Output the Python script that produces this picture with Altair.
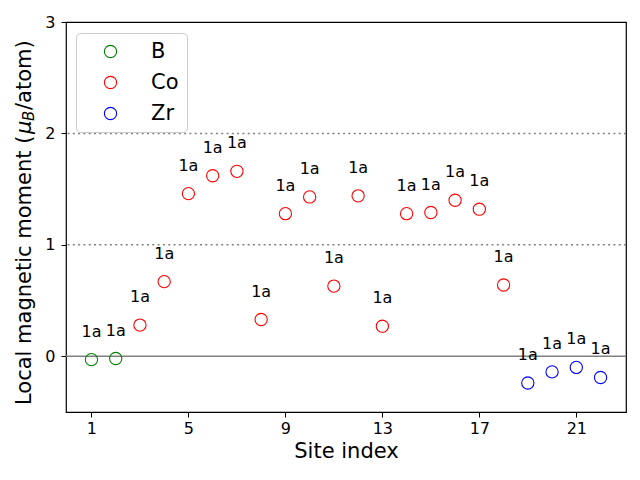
import altair as alt
import pandas as pd

site = list(range(1, 23))
element = ["B", "B"] + ["Co"] * 16 + ["Zr"] * 4
moment = [-0.03, -0.02, 0.28, 0.67, 1.46, 1.62, 1.66, 0.33, 1.28, 1.43, 0.63,
          1.44, 0.27, 1.28, 1.29, 1.40, 1.32, 0.64, -0.24, -0.14, -0.10, -0.19]
wyckoff = ["1a"] * 22

elements = ["B", "Co", "Zr"]
colors = ["green", "red", "blue"]
x_ticks = [1, 5, 9, 13, 17, 21]
y_ticks = [0, 1, 2, 3]
ref_solid = [0]
ref_dotted = [1, 2]

# y-axis title pieces: text, font size, italic, position along axis, offset across
title_parts = ["Local magnetic moment (", "μ", "B", "/atom)"]
title_sizes = [21, 21, 15, 21]
title_styles = ["normal", "italic", "italic", "normal"]
title_pos = [383, 112, 99, 88]
title_across = [-41, -41, -37, -41]

df = pd.DataFrame({"site": site, "element": element, "moment": moment, "label": wyckoff})

font = "DejaVu Sans"
xs = alt.Scale(domain=[-0.05, 23.05], nice=False, zero=False)
ys = alt.Scale(domain=[-0.5, 3], nice=False, zero=False)

solid = alt.Chart(pd.DataFrame({"y": ref_solid})).mark_rule(
    color="gray", strokeWidth=1.5
).encode(y=alt.Y("y:Q", scale=ys))

dotted = alt.Chart(pd.DataFrame({"y": ref_dotted})).mark_rule(
    color="gray", strokeWidth=1.5, strokeDash=[2, 3.3]
).encode(y=alt.Y("y:Q", scale=ys))

points = alt.Chart(df).mark_point(
    shape="circle", filled=False, size=150, strokeWidth=1.1, opacity=1
).encode(
    x=alt.X("site:Q", scale=xs,
            axis=alt.Axis(values=x_ticks, title="Site index", grid=False, format="d")),
    y=alt.Y("moment:Q", scale=ys,
            axis=alt.Axis(values=y_ticks, title=None, grid=False, format="d")),
    color=alt.Color("element:N",
                    scale=alt.Scale(domain=elements, range=colors),
                    legend=alt.Legend(
                        title=None, orient="none", legendX=10, legendY=11,
                        symbolType="circle", symbolFillColor="transparent",
                        symbolSize=150, symbolStrokeWidth=1.1,
                        labelFontSize=21, labelFont=font, labelOffset=30,
                        symbolOffset=16, rowPadding=9,
                        padding=8, strokeColor="#cccccc", fillColor="white",
                        cornerRadius=4, labelLimit=200,
                    )),
)

labels = alt.Chart(df).mark_text(
    dy=-28, fontSize=16, font=font, color="black", baseline="middle", align="center"
).encode(
    x=alt.X("site:Q", scale=xs),
    y=alt.Y("moment:Q", scale=ys),
    text="label:N",
)

title_layers = []
for txt, fs, st, pos, acr in zip(title_parts, title_sizes, title_styles, title_pos, title_across):
    title_layers.append(
        alt.Chart(pd.DataFrame({"t": [txt]})).mark_text(
            angle=270, align="left", baseline="middle", font=font, fontSize=fs,
            fontStyle=st, color="black"
        ).encode(text="t:N", x=alt.value(acr), y=alt.value(pos))
    )

chart = alt.layer(solid, dotted, points, labels, *title_layers).properties(
    width=560, height=390,
    autosize=alt.AutoSizeParams(type="none"),
    padding={"left": 58, "top": 14, "right": 6, "bottom": 60},
).configure_view(
    stroke="black", strokeWidth=1.2
).configure_axis(
    labelFont=font, titleFont=font, labelFontSize=16, titleFontSize=21,
    titleFontWeight="normal", labelColor="black", titleColor="black",
    domain=False, tickColor="black", tickSize=5,
).configure_axisX(titlePadding=4, labelPadding=3).configure_axisY(labelPadding=6)

chart.save("out.html", embed_options={"renderer": "svg", "actions": False})
